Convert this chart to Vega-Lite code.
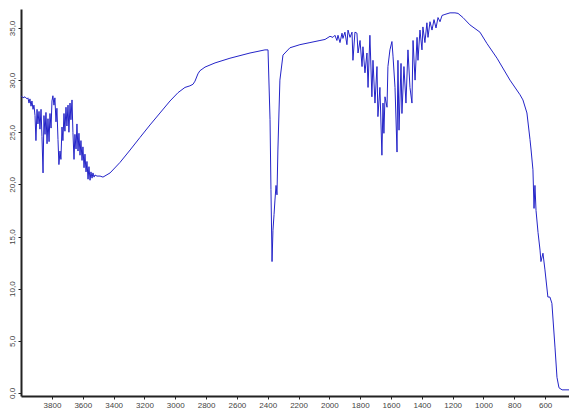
{
  "$schema": "https://vega.github.io/schema/vega-lite/v6.json",
  "width": 548,
  "height": 387,
  "autosize": {"type": "none"},
  "padding": {"left": 21, "top": 9, "right": 0, "bottom": 15},
  "background": "white",
  "config": {"view": {"stroke": null}},
  "data": {"values": [
    {"wn": 4000, "t": 28.5}, {"wn": 3988, "t": 28.3}, {"wn": 3975, "t": 28.4}, {"wn": 3962, "t": 28.2},
    {"wn": 3956, "t": 28.3}, {"wn": 3949, "t": 27.8}, {"wn": 3943, "t": 28.2}, {"wn": 3936, "t": 27.5},
    {"wn": 3930, "t": 28.0}, {"wn": 3923, "t": 27.2}, {"wn": 3917, "t": 27.6}, {"wn": 3910, "t": 26.6},
    {"wn": 3904, "t": 24.2}, {"wn": 3897, "t": 27.2}, {"wn": 3891, "t": 25.8}, {"wn": 3884, "t": 27.0},
    {"wn": 3878, "t": 25.3}, {"wn": 3871, "t": 27.2}, {"wn": 3865, "t": 24.6}, {"wn": 3858, "t": 21.1},
    {"wn": 3852, "t": 26.6}, {"wn": 3845, "t": 24.8}, {"wn": 3839, "t": 26.9}, {"wn": 3832, "t": 23.9},
    {"wn": 3826, "t": 26.3}, {"wn": 3819, "t": 24.1}, {"wn": 3813, "t": 26.8}, {"wn": 3806, "t": 25.4},
    {"wn": 3800, "t": 28.0}, {"wn": 3794, "t": 28.5}, {"wn": 3787, "t": 27.6}, {"wn": 3781, "t": 28.3},
    {"wn": 3774, "t": 26.0}, {"wn": 3768, "t": 27.3}, {"wn": 3761, "t": 24.3}, {"wn": 3755, "t": 21.9},
    {"wn": 3748, "t": 23.2}, {"wn": 3742, "t": 22.4}, {"wn": 3735, "t": 25.5}, {"wn": 3729, "t": 24.2},
    {"wn": 3722, "t": 26.8}, {"wn": 3716, "t": 25.1}, {"wn": 3709, "t": 27.4}, {"wn": 3703, "t": 25.6},
    {"wn": 3696, "t": 27.6}, {"wn": 3690, "t": 25.0}, {"wn": 3683, "t": 27.8}, {"wn": 3677, "t": 26.2},
    {"wn": 3670, "t": 28.1}, {"wn": 3664, "t": 25.0}, {"wn": 3657, "t": 22.4}, {"wn": 3651, "t": 24.8},
    {"wn": 3644, "t": 23.4}, {"wn": 3638, "t": 25.8}, {"wn": 3631, "t": 23.2}, {"wn": 3625, "t": 24.9},
    {"wn": 3618, "t": 22.8}, {"wn": 3612, "t": 24.2}, {"wn": 3605, "t": 22.3}, {"wn": 3599, "t": 23.6},
    {"wn": 3592, "t": 21.6}, {"wn": 3586, "t": 22.9}, {"wn": 3579, "t": 21.2}, {"wn": 3573, "t": 22.2},
    {"wn": 3566, "t": 20.5}, {"wn": 3560, "t": 21.7}, {"wn": 3553, "t": 20.4}, {"wn": 3547, "t": 21.2},
    {"wn": 3540, "t": 20.6}, {"wn": 3534, "t": 21.1}, {"wn": 3527, "t": 20.7}, {"wn": 3521, "t": 20.9},
    {"wn": 3508, "t": 20.8}, {"wn": 3488, "t": 20.8}, {"wn": 3469, "t": 20.7}, {"wn": 3423, "t": 21.1},
    {"wn": 3359, "t": 22.1}, {"wn": 3293, "t": 23.3}, {"wn": 3229, "t": 24.5}, {"wn": 3164, "t": 25.7},
    {"wn": 3099, "t": 26.85}, {"wn": 3034, "t": 28.0}, {"wn": 2982, "t": 28.8}, {"wn": 2937, "t": 29.3},
    {"wn": 2905, "t": 29.45}, {"wn": 2885, "t": 29.6}, {"wn": 2872, "t": 29.9}, {"wn": 2853, "t": 30.6},
    {"wn": 2840, "t": 30.9}, {"wn": 2807, "t": 31.25}, {"wn": 2742, "t": 31.65}, {"wn": 2645, "t": 32.1},
    {"wn": 2515, "t": 32.6}, {"wn": 2418, "t": 32.9}, {"wn": 2398, "t": 32.9}, {"wn": 2385, "t": 26.2},
    {"wn": 2379, "t": 19.5}, {"wn": 2372, "t": 12.6}, {"wn": 2366, "t": 15.6}, {"wn": 2359, "t": 17.1},
    {"wn": 2353, "t": 18.5}, {"wn": 2346, "t": 19.9}, {"wn": 2340, "t": 19.0}, {"wn": 2334, "t": 23.3},
    {"wn": 2321, "t": 30.0}, {"wn": 2301, "t": 32.4}, {"wn": 2256, "t": 33.1}, {"wn": 2191, "t": 33.4},
    {"wn": 2126, "t": 33.6}, {"wn": 2061, "t": 33.8}, {"wn": 2028, "t": 33.9}, {"wn": 1996, "t": 34.2},
    {"wn": 1977, "t": 34.1}, {"wn": 1964, "t": 34.3}, {"wn": 1951, "t": 33.8}, {"wn": 1944, "t": 34.3},
    {"wn": 1931, "t": 33.6}, {"wn": 1918, "t": 34.5}, {"wn": 1912, "t": 34.0}, {"wn": 1899, "t": 34.6},
    {"wn": 1886, "t": 33.4}, {"wn": 1879, "t": 34.8}, {"wn": 1866, "t": 34.1}, {"wn": 1853, "t": 34.6},
    {"wn": 1847, "t": 31.9}, {"wn": 1834, "t": 34.6}, {"wn": 1821, "t": 34.5}, {"wn": 1814, "t": 32.6},
    {"wn": 1801, "t": 33.8}, {"wn": 1788, "t": 31.3}, {"wn": 1782, "t": 33.2}, {"wn": 1769, "t": 30.7},
    {"wn": 1756, "t": 32.6}, {"wn": 1749, "t": 29.3}, {"wn": 1737, "t": 34.3}, {"wn": 1724, "t": 28.4},
    {"wn": 1717, "t": 31.9}, {"wn": 1704, "t": 27.8}, {"wn": 1691, "t": 31.3}, {"wn": 1685, "t": 26.5},
    {"wn": 1672, "t": 29.3}, {"wn": 1659, "t": 22.8}, {"wn": 1652, "t": 27.8}, {"wn": 1646, "t": 24.9},
    {"wn": 1639, "t": 28.4}, {"wn": 1626, "t": 27.4}, {"wn": 1620, "t": 31.3}, {"wn": 1607, "t": 32.9},
    {"wn": 1594, "t": 33.7}, {"wn": 1587, "t": 32.3}, {"wn": 1574, "t": 29.3}, {"wn": 1561, "t": 23.1},
    {"wn": 1555, "t": 31.9}, {"wn": 1548, "t": 25.2}, {"wn": 1535, "t": 31.6}, {"wn": 1529, "t": 26.8},
    {"wn": 1516, "t": 31.3}, {"wn": 1503, "t": 27.8}, {"wn": 1490, "t": 32.9}, {"wn": 1477, "t": 29.3},
    {"wn": 1464, "t": 27.8}, {"wn": 1457, "t": 33.8}, {"wn": 1444, "t": 30.0}, {"wn": 1431, "t": 34.1},
    {"wn": 1425, "t": 31.9}, {"wn": 1412, "t": 34.8}, {"wn": 1399, "t": 32.9}, {"wn": 1393, "t": 35.1},
    {"wn": 1380, "t": 33.6}, {"wn": 1367, "t": 35.5}, {"wn": 1360, "t": 34.1}, {"wn": 1347, "t": 35.6},
    {"wn": 1334, "t": 34.8}, {"wn": 1321, "t": 35.8}, {"wn": 1308, "t": 35.0}, {"wn": 1295, "t": 36.0},
    {"wn": 1282, "t": 35.6}, {"wn": 1269, "t": 36.2}, {"wn": 1250, "t": 36.3}, {"wn": 1217, "t": 36.45},
    {"wn": 1185, "t": 36.45}, {"wn": 1165, "t": 36.4}, {"wn": 1133, "t": 36.0}, {"wn": 1088, "t": 35.3},
    {"wn": 1023, "t": 34.6}, {"wn": 977, "t": 33.5}, {"wn": 912, "t": 32.1}, {"wn": 828, "t": 30.0},
    {"wn": 763, "t": 28.6}, {"wn": 744, "t": 28.1}, {"wn": 718, "t": 26.85}, {"wn": 698, "t": 24.3},
    {"wn": 691, "t": 23.3}, {"wn": 679, "t": 21.4}, {"wn": 672, "t": 17.7}, {"wn": 666, "t": 19.9},
    {"wn": 659, "t": 17.5}, {"wn": 646, "t": 15.4}, {"wn": 633, "t": 13.7}, {"wn": 627, "t": 12.6},
    {"wn": 614, "t": 13.4}, {"wn": 601, "t": 11.8}, {"wn": 582, "t": 9.2}, {"wn": 569, "t": 9.2},
    {"wn": 556, "t": 8.6}, {"wn": 536, "t": 4.4}, {"wn": 523, "t": 1.5}, {"wn": 510, "t": 0.5},
    {"wn": 490, "t": 0.3}, {"wn": 445, "t": 0.3}
  ]},
  "mark": {"type": "line", "color": "#2424c8", "strokeWidth": 1, "clip": true},
  "encoding": {
    "x": {
      "field": "wn", "type": "quantitative",
      "scale": {"domain": [4001, 445], "nice": false, "zero": false},
      "axis": {
        "values": [3800, 3600, 3400, 3200, 3000, 2800, 2600, 2400, 2200, 2000, 1800, 1600, 1400, 1200, 1000, 800, 600],
        "format": "d", "title": null, "grid": false,
        "domainColor": "#222", "domainWidth": 2, "tickColor": "#222", "tickSize": 3, "tickWidth": 1,
        "labelFont": "Liberation Sans", "labelFontSize": 8, "labelColor": "#444", "labelPadding": 2,
        "labelFlush": false, "labelOverlap": false
      }
    },
    "y": {
      "field": "t", "type": "quantitative",
      "scale": {"domain": [-0.29, 36.82], "nice": false, "zero": false},
      "axis": {
        "values": [0, 5, 10, 15, 20, 25, 30, 35],
        "labelExpr": "replace(format(datum.value, '.1f'), '.', ',')",
        "title": null, "grid": false,
        "domainColor": "#222", "domainWidth": 2, "tickColor": "#222", "tickSize": 3, "tickWidth": 1,
        "labelFont": "Liberation Sans", "labelFontSize": 8, "labelColor": "#444", "labelPadding": 2,
        "labelAngle": 270, "labelAlign": "center", "labelBaseline": "bottom",
        "labelFlush": false, "labelOverlap": false
      }
    }
  }
}
